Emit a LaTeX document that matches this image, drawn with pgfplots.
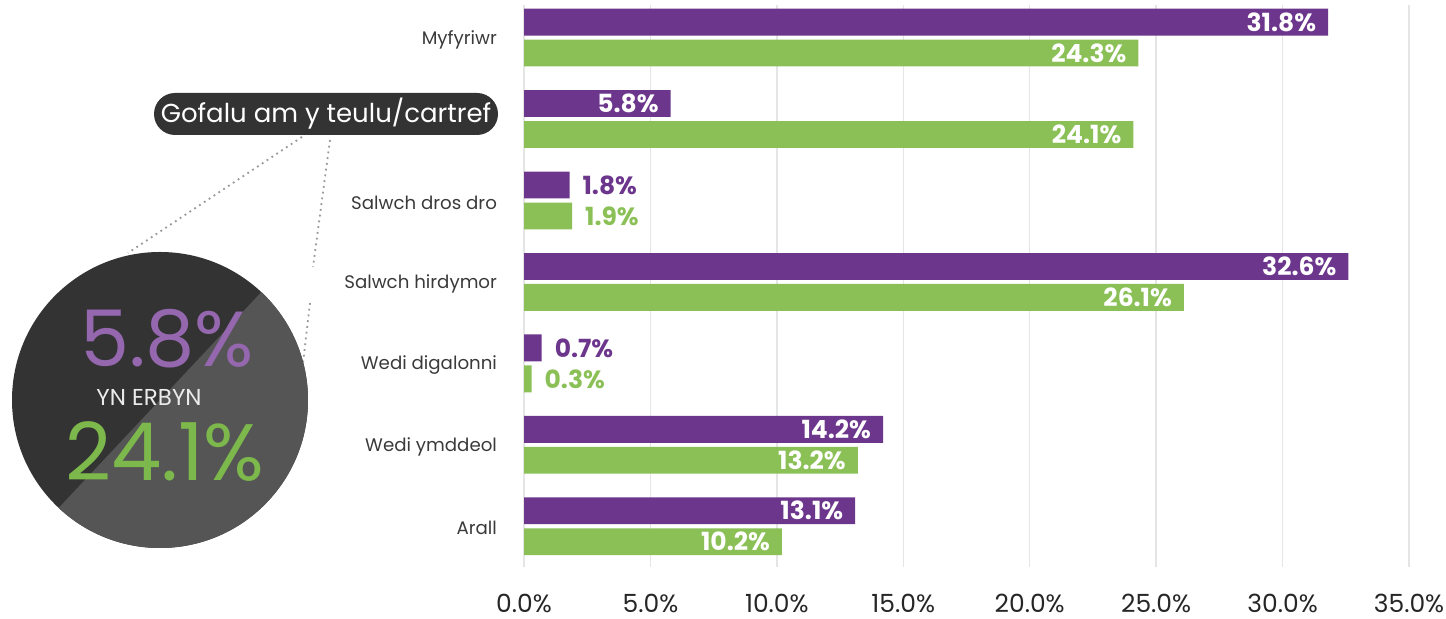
\documentclass[border=0pt]{standalone}
\usepackage{fontspec}
\setmainfont{Poppins}
\usepackage{pgfplots}
\pgfplotsset{compat=1.18}
\definecolor{purp}{HTML}{6C368C}
\definecolor{grn}{HTML}{8BC057}
\definecolor{cpurp}{HTML}{9467AE}
\definecolor{cgrn}{HTML}{7CB84B}
\definecolor{dark}{HTML}{333333}
\definecolor{mid}{HTML}{555555}
\definecolor{txt}{HTML}{3A3A3A}
\begin{document}
\begin{tikzpicture}[x=0.5pt,y=0.5pt]
\useasboundingbox (0,0) rectangle (1446,619);
\begin{axis}[
 at={(262pt,26pt)}, anchor=south west, scale only axis,
 width=442.5pt, height=281pt,
 xmin=0, xmax=35, ymin=-0.4, ymax=6.5, y dir=reverse,
 axis line style={draw=none},
 major tick length=0pt,
 xtick={0,5,...,35},
 xmajorgrids, grid style={line width=0.75pt, color=black!10},
 ytick={0,...,6},
 yticklabels={Myfyriwr,{},Salwch dros dro,Salwch hirdymor,Wedi digalonni,Wedi ymddeol,Arall},
 yticklabel style={font=\fontsize{9.1}{11}\selectfont, text=txt, xshift=-10pt, yshift=-1pt},
 /pgf/number format/assume math mode=true,
 xticklabel={\pgfmathprintnumber[fixed,fixed zerofill,precision=1]{\tick}\%},
 xticklabel style={font=\fontsize{12.5}{14}\selectfont, text=black!85, yshift=-10pt},
 xbar, bar width=0.33,
 clip=false,
 point meta=x,
]
\addplot[xbar, fill=purp, draw=none, bar shift=-0.19,
  nodes near coords={\pgfmathprintnumber[fixed,fixed zerofill,precision=1]{\pgfplotspointmeta}\%},
  nodes near coords style={anchor=east, text=white, font=\bfseries\fontsize{12.5}{13}\selectfont, xshift=-2.5pt}]
  coordinates {(31.8,0) (5.8,1) (32.6,3) (14.2,5) (13.1,6)};
\addplot[xbar, fill=purp, draw=none, bar shift=-0.19,
  nodes near coords={\pgfmathprintnumber[fixed,fixed zerofill,precision=1]{\pgfplotspointmeta}\%},
  nodes near coords style={anchor=west, text=purp, font=\bfseries\fontsize{12.5}{13}\selectfont, xshift=3pt}]
  coordinates {(1.8,2) (0.7,4)};
\addplot[xbar, fill=grn, draw=none, bar shift=0.19,
  nodes near coords={\pgfmathprintnumber[fixed,fixed zerofill,precision=1]{\pgfplotspointmeta}\%},
  nodes near coords style={anchor=east, text=white, font=\bfseries\fontsize{12.5}{13}\selectfont, xshift=-2.5pt}]
  coordinates {(24.3,0) (24.1,1) (26.1,3) (13.2,5) (10.2,6)};
\addplot[xbar, fill=grn, draw=none, bar shift=0.19,
  nodes near coords={\pgfmathprintnumber[fixed,fixed zerofill,precision=1]{\pgfplotspointmeta}\%},
  nodes near coords style={anchor=west, text=grn, font=\bfseries\fontsize{12.5}{13}\selectfont, xshift=3pt}]
  coordinates {(1.9,2) (0.3,4)};
\end{axis}
% callout
\draw[black!40, line width=0.9pt, dotted] (302,482) -- (128,366);
\draw[black!40, line width=0.9pt, dotted] (330,479) -- (313,352);
\draw[black!40, line width=0.9pt, dotted] (310,316) -- (303,256);
\fill[dark] (160,219) circle[radius=148];
\fill[mid] (160,219) ++(46.8:148) arc[start angle=46.8, end angle=-133.2, radius=148] -- cycle;
\node[text=cpurp, inner sep=0pt, font=\fontsize{39}{42}\selectfont] at (167,280) {5.8\%};
\node[text=white!92!black, inner sep=0pt, font=\fontsize{11.5}{13}\selectfont] at (149,222) {YN ERBYN};
\node[text=cgrn, inner sep=0pt, font=\fontsize{40}{44}\selectfont] at (165,167) {24.1\%};
\node[fill=dark, text=white, rounded corners=10.5pt, minimum width=172pt, minimum height=21pt, inner sep=0pt, font=\fontsize{13}{15}\selectfont] at (326,505) {Gofalu am y teulu/cartref};
\end{tikzpicture}
\end{document}
